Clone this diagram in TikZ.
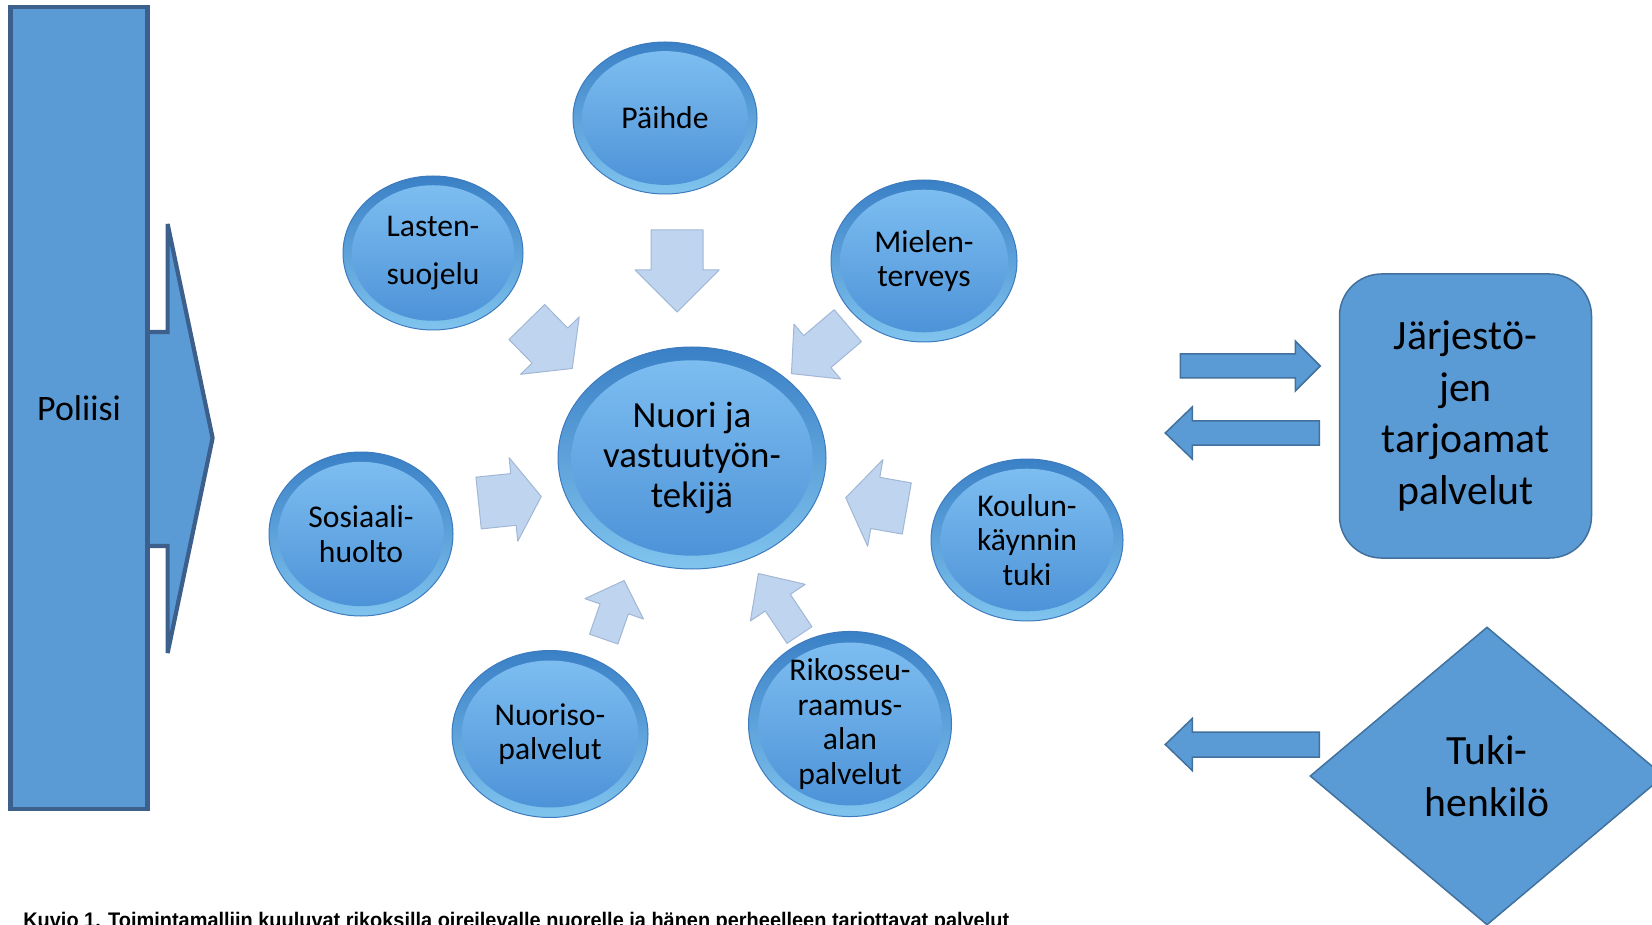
\documentclass[tikz,border=0pt]{standalone}
\usepackage{fontspec}
\usepackage{graphicx}
\setmainfont{Carlito}
\newfontfamily\captionfont{Liberation Sans}
\usetikzlibrary{shapes.geometric,calc}
\pgfdeclarelayer{back}
\pgfsetlayers{back,main}

\newlength\px
\setlength\px{0.02cm}

\definecolor{boxblue}{HTML}{5B9BD5}
\definecolor{boxline}{HTML}{41719C}
\definecolor{polline}{HTML}{3D5F8B}
\definecolor{ringtop}{HTML}{3A80C6}
\definecolor{ringbot}{HTML}{80C4EE}
\definecolor{balltop}{HTML}{80C0F2}
\definecolor{ballbot}{HTML}{4A90D6}
\definecolor{ballline}{HTML}{3D7BBE}
\definecolor{palefill}{HTML}{BFD4EF}
\definecolor{paleline}{HTML}{A2B7D5}

% block arrow round the origin: options, length, shaft half, head half, head length
\newcommand{\blockarrow}[5]{%
  \draw[#1] (-#2/2,-#3) -- (#2/2-#5,-#3) -- (#2/2-#5,-#4) -- (#2/2,0)
    -- (#2/2-#5,#4) -- (#2/2-#5,#3) -- (-#2/2,#3) -- cycle;}

\begin{document}
\begin{tikzpicture}[
    x=1\px, y=-1\px,
    % Define styles
    bluebox/.style={draw=boxline, fill=boxblue, line width=1.5\px},
    bigblue/.style={draw=polline, fill=boxblue, line width=4.2\px, miter limit=6},
    ball/.style 2 args={ellipse, minimum width=#1\px, minimum height=#2\px, inner sep=0pt, align=center,
        draw=ballline, line width=1\px, top color=ringtop, bottom color=ringbot,
        path picture={\shade[top color=balltop, bottom color=ballbot]
            let \p1=($(path picture bounding box.north east)-(path picture bounding box.center)$) in
            (path picture bounding box.center) ellipse [x radius={0.9*\x1}, y radius={0.88*abs(\y1)}];},
        font=\fontsize{18pt}{19.7pt}\selectfont},
    inarrow/.style={fill=palefill, draw=paleline, line width=1\px, line join=round},
    sidearrow/.style={fill=boxblue, draw=boxline, line width=1.5\px}
]
\useasboundingbox (0,0) rectangle (1652,925);
\clip (0,0) rectangle (1652,925);

% Poliisi
\node[bigblue, minimum width=137\px, minimum height=802\px, inner sep=0pt,
      font=\fontsize{20.4pt}{24pt}\selectfont] (poliisi) at (79,408) {Poliisi};
\begin{pgfonlayer}{back}
\filldraw[bigblue] ($(poliisi.east)+(-5,-76)$) -- ++(23,0) -- ++(0,-108) -- ++(45,214)
    -- ++(-45,215) -- ++(0,-107) -- ++(-23,0);
\end{pgfonlayer}

% Services round the centre
\node[ball={268}{222}, font=\fontsize{21pt}{23pt}\selectfont] (nuori) at (692,458) {Nuori ja\\vastuutyön-\\tekijä};
\node[ball={184}{152}] (paihde) at (665,118) {Päihde};
\node[ball={180}{154}, font=\fontsize{18pt}{27pt}\selectfont] (lasten) at (433,253) {Lasten-\\suojelu};
\node[ball={186}{162}] (mielen) at (924,261) {Mielen-\\terveys};
\node[ball={184}{164}] (sosiaali) at (361,534) {Sosiaali-\\huolto};
\node[ball={192}{162}] (koulun) at (1027,540) {Koulun-\\käynnin\\tuki};
\node[ball={196}{167}] (nuoriso) at (550,734) {Nuoriso-\\palvelut};
\node[ball={203}{171}] (rikos) at (850,724) {Rikosseu-\\raamus-\\alan\\palvelut};

% Arrows into the centre
\foreach \src/\ang/\len/\sh/\hh/\hl in {paihde/-90/82/26/42/42, lasten/-45.6/65/25/41/32,
    mielen/-139.6/74/21/36/34, sosiaali/5.9/63/26/42/28, koulun/170/62/26/44/30,
    nuoriso/70.8/62/15/31/30, rikos/123.7/74/15/33/35}{
  \blockarrow{inarrow, shift={($(\src)!0.45!(nuori)$)}, rotate=\ang}{\len}{\sh}{\hh}{\hl}
}

% Right side
\node[bluebox, rounded corners=42\px, minimum width=252\px, minimum height=284\px, align=center,
      font=\fontsize{23.8pt}{29.5pt}\selectfont] (jarjesto) at (1465.5,416) {Järjestö-\\jen\\tarjoamat\\palvelut};
\node[bluebox, diamond, minimum width=354\px, minimum height=298\px, inner sep=0pt, align=center,
      font=\fontsize{23.7pt}{29.8pt}\selectfont] (tuki) at (1487,776) {Tuki-\\henkilö};

\blockarrow{sidearrow, shift={($(jarjesto.west)+(-88.5,-50)$)}}{140}{12}{25}{25}
\blockarrow{sidearrow, shift={($(jarjesto.west)+(-96.5,17)$)}, rotate=180}{154}{12}{26}{27}
\blockarrow{sidearrow, shift={($(tuki.west)+(-67,-31.5)$)}, rotate=180}{154}{12.5}{26}{27}

% Caption
\node[anchor=base west, inner sep=0pt, font=\captionfont\bfseries\fontsize{12pt}{14pt}\selectfont] (caption) at (23,927)
    {\scalebox{0.945}[1]{Kuvio 1. Toimintamalliin kuuluvat rikoksilla oireilevalle nuorelle ja hänen perheelleen tarjottavat palvelut}};

\end{tikzpicture}
\end{document}
